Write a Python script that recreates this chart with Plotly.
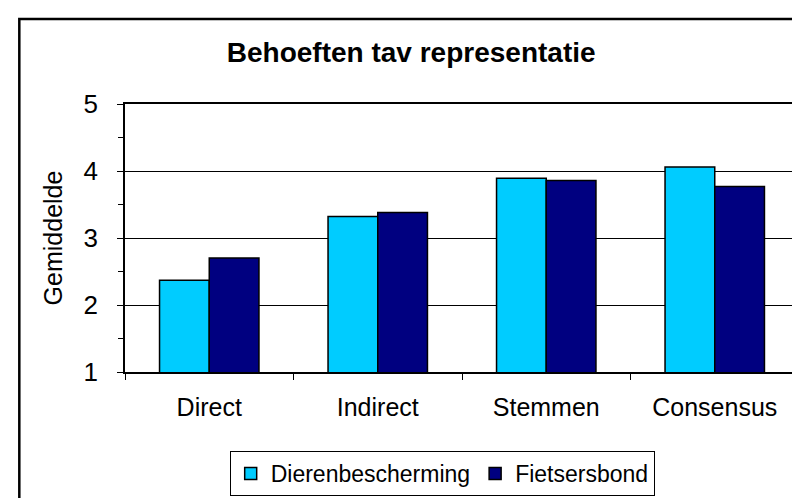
import plotly.graph_objects as go

categories = ["Direct", "Indirect", "Stemmen", "Consensus"]
dierenbescherming = [2.37, 3.32, 3.89, 4.06]
fietsersbond = [2.70, 3.38, 3.86, 3.77]
series_names = ["Dierenbescherming", "Fietsersbond"]
y_ticks = [1, 2, 3, 4, 5]

FONT = "Liberation Sans, Arial, sans-serif"

fig = go.Figure()
fig.add_trace(go.Bar(name=series_names[0], x=categories, y=dierenbescherming,
                     marker=dict(color="#00CCFF", line=dict(color="black", width=1.5))))
fig.add_trace(go.Bar(name=series_names[1], x=categories, y=fietsersbond,
                     marker=dict(color="#000080", line=dict(color="black", width=1.5))))

L, R, T, B = 117, 7, 96, 134
W, H = 800, 498
pw, ph = W - L - R, H - T - B

def px_x(x):
    return (x - L) / pw

def px_y(y):
    return (H - B - y) / ph

fig.update_layout(
    width=W, height=H,
    margin=dict(l=L, r=R, t=T, b=B),
    paper_bgcolor="white", plot_bgcolor="white",
    font=dict(family=FONT, color="black", size=25),
    barmode="group", bargap=0.41, bargroupgap=0,
    title=dict(text="<b>Behoeften tav representatie</b>", x=0.504, xanchor="center",
               y=1 - 44 / H, yanchor="middle", font=dict(size=28, family=FONT, color="black")),
    showlegend=True,
    legend=dict(orientation="h", x=px_x(222), xanchor="left", y=px_y(443), yanchor="top",
                bordercolor="black", borderwidth=1, font=dict(size=23, family=FONT),
                itemwidth=30, tracegroupgap=0, traceorder="normal"),
    xaxis=dict(showline=True, linecolor="black", linewidth=1.5, mirror=True,
               ticks="outside", tickson="boundaries", ticklen=6, tickcolor="black",
               ticklabelstandoff=12, tickfont=dict(size=25)),
    yaxis=dict(range=[1, 5], tickvals=y_ticks, showline=True, linecolor="black", linewidth=1.5,
               mirror=True, ticks="outside", ticklen=6, tickcolor="black",
               showgrid=True, gridcolor="black", gridwidth=1,
               minor=dict(dtick=0.5, ticks="outside", ticklen=5, tickcolor="black", showgrid=False),
               tickfont=dict(size=26), ticklabelstandoff=14,
               title=dict(text="Gemiddelde", font=dict(size=25), standoff=14)),
    shapes=[dict(type="rect", xref="paper", yref="paper",
                 x0=px_x(11), x1=px_x(850), y0=px_y(560), y1=px_y(11),
                 line=dict(color="black", width=2.5), fillcolor="rgba(0,0,0,0)", layer="below")],
)

fig.write_html("out.html")
